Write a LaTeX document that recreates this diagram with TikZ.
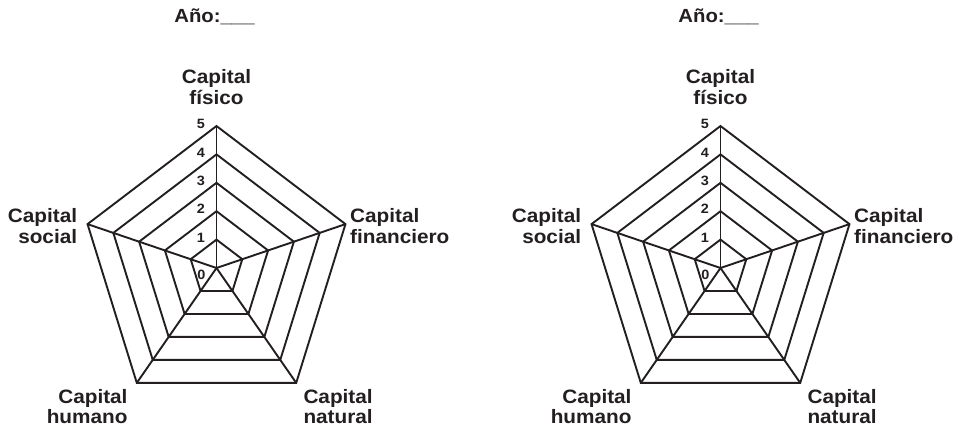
\documentclass[tikz,border=0pt]{standalone}
\usepackage{fontspec}
\setmainfont{Liberation Sans}[FakeStretch=1.07]
\definecolor{ink}{RGB}{35,31,32}

\tikzset{
  gridline/.style={draw=ink, line width=1.9pt, line join=miter, line cap=butt},
  axislabel/.style={text=ink, font=\bfseries\fontsize{19.4}{20.5}\selectfont, inner sep=0pt},
  titlelabel/.style={text=ink, font=\bfseries\fontsize{19}{20.5}\selectfont, inner sep=0pt},
  levellabel/.style={text=ink, font=\bfseries\fontsize{13.5}{14}\selectfont, inner sep=0pt},
}

% radar grid: #1 = name prefix, #2 = x of the centre
\newcommand\radarchart[2]{%
  \begin{scope}[shift={(#2,268)}, name prefix=#1-]
    \coordinate (c) at (0,0);
    \foreach \k in {1,...,5}{
      \foreach \i in {0,...,4}{
        \coordinate (v\k\i) at ({0.955*28.4*\k*cos(90+72*\i)},{-28.4*\k*sin(90+72*\i)});
      }
    }
    % spokes
    \foreach \i in {0,...,4}{
      \draw[gridline] (c) -- (v5\i);
    }
    % level pentagons
    \foreach \k in {1,...,5}{
      \draw[gridline] (v\k0) -- (v\k1) -- (v\k2) -- (v\k3) -- (v\k4) -- cycle;
    }
    % scale numbers
    \node[levellabel] (n0) at (-15,7) {0};
    \foreach \k in {1,...,5}{
      \node[levellabel] (n\k) at (-15.5,{-28.4*\k-2}) {\k};
    }
    % axis names
    \node[axislabel, align=center] (fisico) at (0,-181) {Capital\\físico};
    \node[axislabel, align=left, anchor=west] (financiero) at (133.5,-42) {Capital\\financiero};
    \node[axislabel, align=right, anchor=east] (social) at (-139.2,-42) {Capital\\social};
    \node[axislabel, align=right, anchor=east] (humano) at (-88.8,138.7) {Capital\\humano};
    \node[axislabel, align=left, anchor=west] (natural) at (86.8,138.7) {Capital\\natural};
    \node[titlelabel] (year) at (-2,-251) {Año:\_\_\_};
  \end{scope}
}

\begin{document}
\begin{tikzpicture}[x=1pt, y=-1pt]
  \useasboundingbox[fill=white] (0,0) rectangle (960,431);
  \radarchart{left}{216.5}
  \radarchart{right}{720.5}
\end{tikzpicture}
\end{document}
